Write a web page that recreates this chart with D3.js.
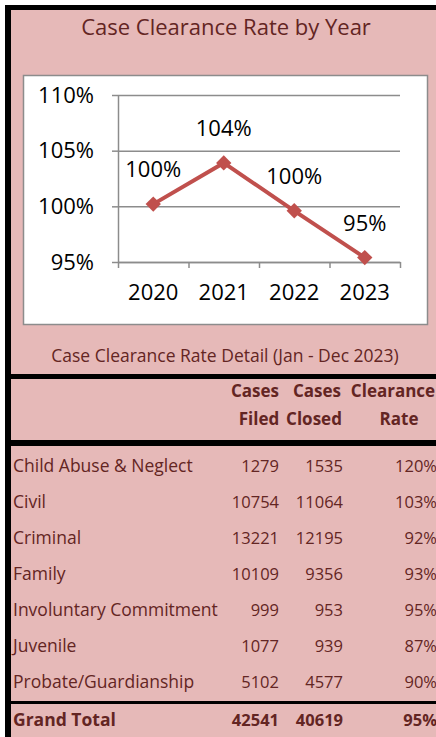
<!DOCTYPE html>
<html>
<head>
<meta charset="utf-8">
<script src="https://cdn.jsdelivr.net/npm/d3@7"></script>
<style>
	body { margin: 0; background: #ffffff; }
	svg { display: block; font-family: "Open Sans", sans-serif; }
</style>
</head>
<body>
<svg width="436" height="737"></svg>
<script>
// chart data
let years = ['2020', '2021', '2022', '2023'];
let yearRates = [100.2, 103.9, 99.6, 95.4];
let yTicks = [95, 100, 105, 110];

// table data
let caseTypes = ['Child Abuse & Neglect', 'Civil', 'Criminal', 'Family', 'Involuntary Commitment', 'Juvenile', 'Probate/Guardianship'];
let casesFiled = [1279, 10754, 13221, 10109, 999, 1077, 5102];
let casesClosed = [1535, 11064, 12195, 9356, 953, 939, 4577];
let clearanceRates = [120, 103, 92, 93, 95, 87, 90];
let grandTotal = ['Grand Total', 42541, 40619, 95];

let svg = d3.select('svg');
let darkRed = '#632523';
let pink = '#e6b9b8';

// background + black borders
svg.append('rect').attr('x', 11).attr('y', 10).attr('width', 425).attr('height', 727).attr('fill', pink);
svg.append('rect').attr('x', 5).attr('y', 5).attr('width', 431).attr('height', 5).attr('fill', '#000');
svg.append('rect').attr('x', 5).attr('y', 5).attr('width', 6).attr('height', 732).attr('fill', '#000');

svg.append('text')
	.attr('x', 226).attr('y', 35)
	.attr('text-anchor', 'middle')
	.attr('font-size', 22)
	.attr('fill', darkRed)
	.text('Case Clearance Rate by Year');

// plot frame
svg.append('rect')
	.attr('x', 23.5).attr('y', 75.5).attr('width', 404).attr('height', 249)
	.attr('fill', '#fff').attr('stroke', '#8c8c8c').attr('stroke-width', 1.5);

let xBand = d3.scaleBand().domain(years).range([118, 400]);
let xEdge = d3.scaleLinear().domain([0, years.length]).range([118, 400]);
let yScale = d3.scaleLinear().domain([95, 110]).range([262, 95]);

// gridlines
svg.append('g').attr('class', 'grid')
	.attr('transform', 'translate(118,0)')
	.call(d3.axisRight(yScale).tickValues(yTicks).tickSize(282).tickFormat(''))
	.call(g => g.select('.domain').remove())
	.selectAll('line').attr('stroke', '#8c8c8c').attr('stroke-width', 1.5);

// y axis
svg.append('g').attr('class', 'y-axis')
	.attr('transform', 'translate(118,0)')
	.call(d3.axisLeft(yScale).tickValues(yTicks).tickSize(6).tickPadding(18).tickSizeOuter(0)
		.tickFormat(d => d + '%'))
	.call(g => g.select('.domain').attr('stroke', '#8c8c8c').attr('stroke-width', 1.5))
	.call(g => g.selectAll('line').attr('stroke', '#8c8c8c').attr('stroke-width', 1.5))
	.call(g => g.selectAll('text').attr('font-size', 22).attr('fill', '#000').attr('font-family', '"Open Sans", sans-serif'));

// x axis ticks at band edges
svg.append('g').attr('class', 'x-axis')
	.attr('transform', 'translate(0,262)')
	.call(d3.axisBottom(xEdge).ticks(years.length).tickSize(6).tickSizeOuter(0).tickFormat(''))
	.call(g => g.select('.domain').attr('stroke', '#8c8c8c').attr('stroke-width', 1.5))
	.call(g => g.selectAll('line').attr('stroke', '#8c8c8c').attr('stroke-width', 1.5));

svg.append('g').attr('class', 'x-labels')
	.attr('transform', 'translate(0,262)')
	.call(d3.axisBottom(xBand).tickSize(0).tickPadding(22))
	.call(g => g.select('.domain').remove())
	.call(g => g.selectAll('text').attr('font-size', 22).attr('fill', '#000').attr('font-family', '"Open Sans", sans-serif'));

// line + markers
let points = years.map((y, i) => ({ year: y, rate: yearRates[i] }));
let xMid = d => xBand(d.year) + xBand.bandwidth() / 2;

svg.append('path')
	.datum(points)
	.attr('fill', 'none')
	.attr('stroke', '#c0504d')
	.attr('stroke-width', 4)
	.attr('d', d3.line().x(xMid).y(d => yScale(d.rate)));

svg.selectAll('.marker').data(points).enter().append('path')
	.attr('class', 'marker')
	.attr('transform', d => 'translate(' + xMid(d) + ',' + yScale(d.rate) + ')')
	.attr('d', d3.symbol().type(d3.symbolDiamond2).size(150))
	.attr('fill', '#c0504d');

svg.selectAll('.point-label').data(points).enter().append('text')
	.attr('class', 'point-label')
	.attr('x', xMid)
	.attr('y', d => yScale(d.rate) - 27)
	.attr('text-anchor', 'middle')
	.attr('font-size', 22)
	.attr('fill', '#000')
	.text(d => Math.round(d.rate) + '%');

// table section
svg.append('text')
	.attr('x', 225).attr('y', 362)
	.attr('text-anchor', 'middle')
	.attr('font-size', 17.5)
	.attr('fill', darkRed)
	.text('Case Clearance Rate Detail (Jan - Dec 2023)');

svg.append('rect').attr('x', 5).attr('y', 374).attr('width', 431).attr('height', 5).attr('fill', '#000');
svg.append('rect').attr('x', 5).attr('y', 440).attr('width', 431).attr('height', 6).attr('fill', '#000');
svg.append('rect').attr('x', 5).attr('y', 701).attr('width', 431).attr('height', 3).attr('fill', '#000');

let header = [
	{ text: 'Cases', x: 255, y: 397 }, { text: 'Filed', x: 259, y: 425 },
	{ text: 'Cases', x: 317, y: 397 }, { text: 'Closed', x: 314, y: 425 },
	{ text: 'Clearance', x: 393, y: 397 }, { text: 'Rate', x: 399, y: 425 }
];
svg.selectAll('.head').data(header).enter().append('text')
	.attr('class', 'head')
	.attr('x', d => d.x).attr('y', d => d.y)
	.attr('text-anchor', 'middle')
	.attr('font-size', 17).attr('font-weight', 'bold')
	.attr('fill', darkRed)
	.text(d => d.text);

let rows = caseTypes.map((c, i) => [c, casesFiled[i], casesClosed[i], clearanceRates[i]]);
let rowY = d3.scaleLinear().domain([0, 1]).range([472, 508]);
let colX = [13, 279, 343, 437];

let rowG = svg.selectAll('.row').data(rows.concat([grandTotal])).enter().append('g')
	.attr('class', 'row')
	.attr('transform', (d, i) => 'translate(0,' + (i < rows.length ? rowY(i) : 726) + ')')
	.attr('font-weight', (d, i) => i < rows.length ? 'normal' : 'bold');

rowG.selectAll('text').data(d => d).enter().append('text')
	.attr('x', (d, j) => colX[j])
	.attr('text-anchor', (d, j) => j === 0 ? 'start' : 'end')
	.attr('font-size', (d, j) => j === 0 ? 17.5 : 16.5)
	.attr('fill', darkRed)
	.text((d, j) => j === 3 ? d + '%' : d);
</script>
</body>
</html>
